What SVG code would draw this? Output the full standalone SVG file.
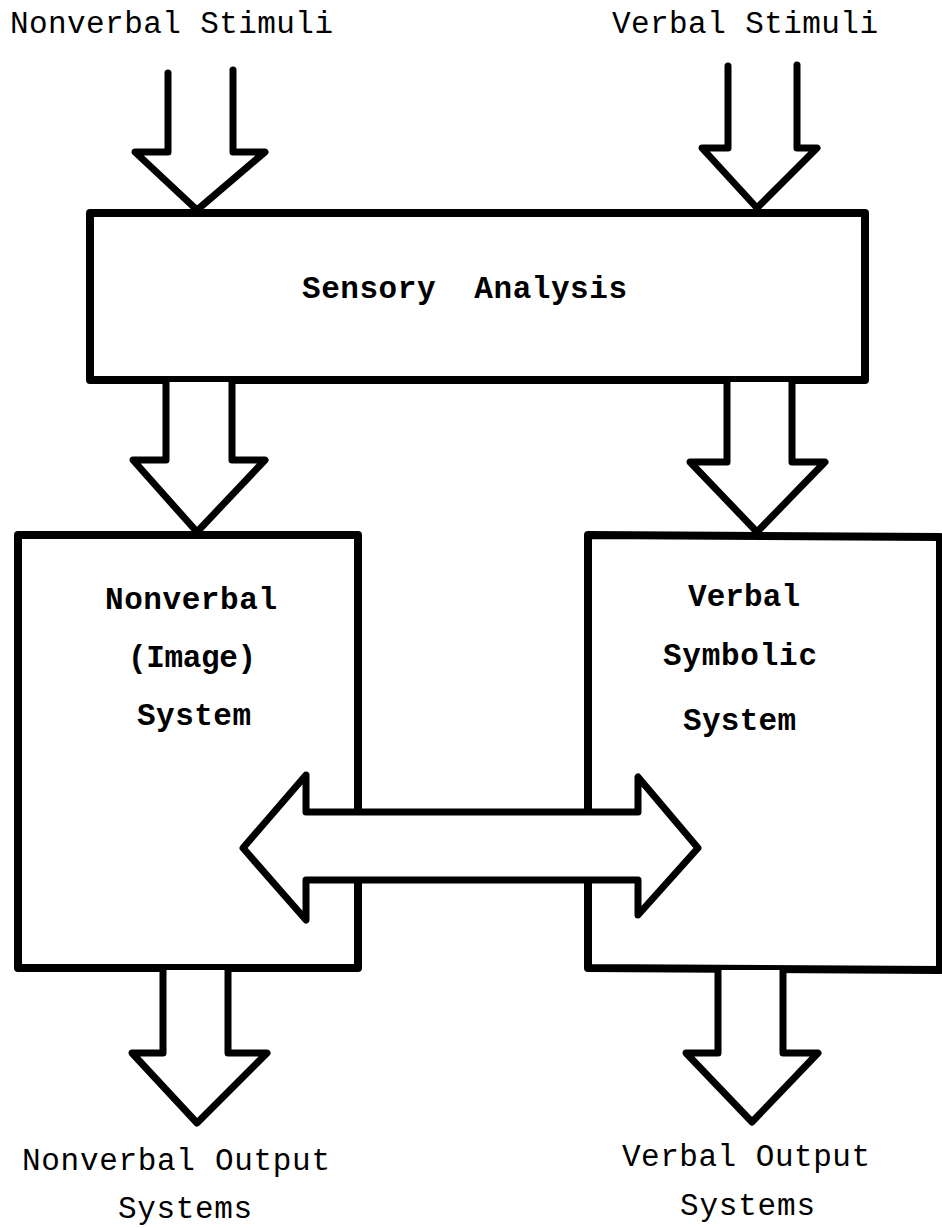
<svg xmlns="http://www.w3.org/2000/svg" width="942" height="1228" viewBox="0 0 942 1228">
<style>
.box{fill:#fff;stroke:#000;stroke-width:8;stroke-linejoin:round;stroke-linecap:round}
.arr{fill:#fff;stroke:#000;stroke-width:7;stroke-linejoin:round;stroke-linecap:round}
.plain{font-family:"Liberation Mono","Courier New",monospace;font-size:31px;fill:#000}
.bold{font-family:"Liberation Mono","Courier New",monospace;font-size:31px;font-weight:bold;fill:#000}
</style>
<rect width="942" height="1228" fill="#fff"/>
<g id="nonverbal-stimuli"><text class="plain" x="10" y="33" textLength="323" lengthAdjust="spacing">Nonverbal Stimuli</text></g>
<g id="verbal-stimuli"><text class="plain" x="612" y="33" textLength="266" lengthAdjust="spacing">Verbal Stimuli</text></g>
<g id="sensory-analysis">
<rect class="box" x="90" y="213" width="775" height="167"/>
<text class="bold" x="302" y="298" textLength="325" lengthAdjust="spacing" xml:space="preserve">Sensory  Analysis</text>
</g>
<g id="nonverbal-system">
<path class="box" d="M358,812 L358,535 L18,535 L18,968 L358,968 L358,880"/>
<text class="bold" x="105" y="609" textLength="172" lengthAdjust="spacing">Nonverbal</text>
<text class="bold" x="128" y="667" textLength="128" lengthAdjust="spacing">(Image)</text>
<text class="bold" x="137" y="725" textLength="114" lengthAdjust="spacing">System</text>
</g>
<g id="verbal-system">
<path class="box" d="M588,812 L588,535 L940,537 L940,970 L588,968 L588,880"/>
<text class="bold" x="688" y="606" textLength="112" lengthAdjust="spacing">Verbal</text>
<text class="bold" x="663" y="665" textLength="154" lengthAdjust="spacing">Symbolic</text>
<text class="bold" x="683" y="730" textLength="113" lengthAdjust="spacing">System</text>
</g>
<g id="connectors">
<path class="arr" d="M168,73 L168,152 L135,152 L197,210 L265,152 L233,152 L233,70"/>
<path class="arr" d="M728,66 L728,148 L702,148 L757,208 L817,148 L797,148 L797,65"/>
<path class="arr" d="M166,382 L166,460 L133,460 L197,532 L265,460 L232,460 L232,382"/>
<path class="arr" d="M727,382 L727,462 L690,462 L757,532 L825,462 L792,462 L792,382"/>
<path class="arr" d="M306,812 L306,775 L243,848 L306,920 L306,880 L638,880 L638,915 L698,848 L638,777 L638,812 Z"/>
<path class="arr" d="M163,970 L163,1053 L132,1053 L197,1123 L267,1053 L228,1053 L228,970"/>
<path class="arr" d="M718,970 L718,1053 L686,1053 L752,1122 L818,1053 L783,1053 L783,970"/>
</g>
<g id="nonverbal-output">
<text class="plain" x="22" y="1170" textLength="308" lengthAdjust="spacing">Nonverbal Output</text>
<text class="plain" x="118" y="1218" textLength="134" lengthAdjust="spacing">Systems</text>
</g>
<g id="verbal-output">
<text class="plain" x="622" y="1166" textLength="248" lengthAdjust="spacing">Verbal Output</text>
<text class="plain" x="680" y="1215" textLength="135" lengthAdjust="spacing">Systems</text>
</g>
</svg>
